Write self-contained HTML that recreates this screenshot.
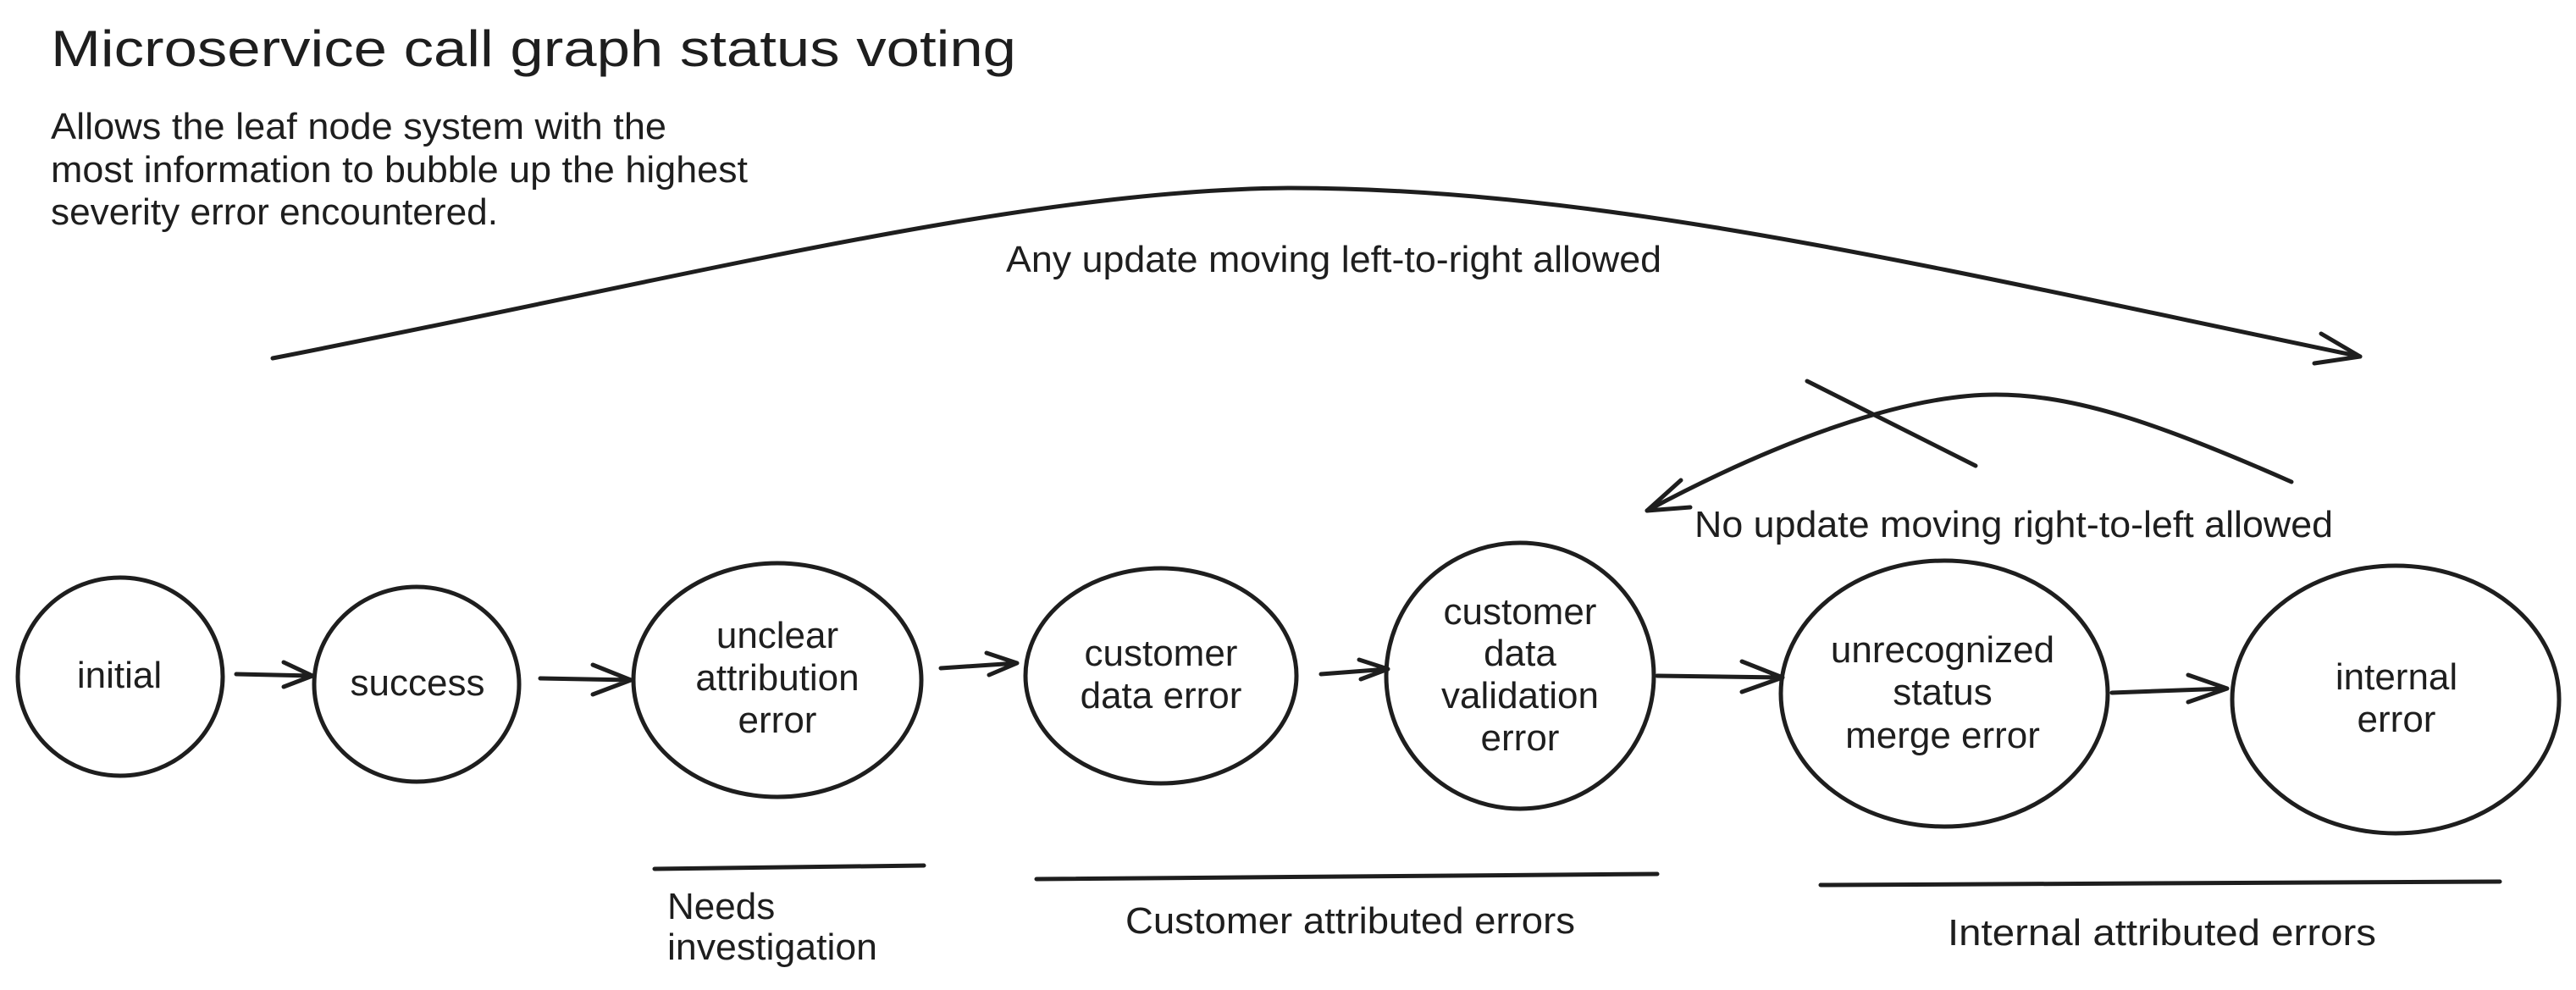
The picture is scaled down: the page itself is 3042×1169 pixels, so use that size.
<!DOCTYPE html>
<html><head><meta charset="utf-8"><style>
html,body{margin:0;padding:0;background:#fff;overflow:hidden;}
svg{display:block;}
text{font-family:"Liberation Sans",sans-serif;fill:#1e1e1e;}
</style></head><body>
<svg width="3042" height="1169" viewBox="0 0 3042 1169" xmlns="http://www.w3.org/2000/svg">
<rect width="3042" height="1169" fill="#fff"/>
<text x="60" y="78" font-size="60" textLength="1140" lengthAdjust="spacingAndGlyphs">Microservice call graph status voting</text>
<g font-size="44">
<text x="60" y="164" textLength="727" lengthAdjust="spacingAndGlyphs">Allows the leaf node system with the</text>
<text x="60" y="215" textLength="823" lengthAdjust="spacingAndGlyphs">most information to bubble up the highest</text>
<text x="60" y="265" textLength="528" lengthAdjust="spacingAndGlyphs">severity error encountered.</text>
</g>
<g fill="none" stroke="#1e1e1e" stroke-width="5" stroke-linecap="round" stroke-linejoin="round">
<path d="M322,423 C800,330 1200,225 1521,222 C1900,222 2300,320 2787,421"/>
<path d="M2741,394 L2787,421 L2733,429"/>
<path d="M2706,569 C2550,500 2450,466 2357,466 C2250,466 2100,520 1945,603"/>
<path d="M1985,567 L1945,603 L1996,599"/>
<path d="M2134,450 L2333,550"/>
<ellipse cx="142" cy="799" rx="121" ry="117"/>
<ellipse cx="492" cy="808" rx="121" ry="115"/>
<ellipse cx="918" cy="803" rx="170" ry="138"/>
<ellipse cx="1371" cy="798" rx="160" ry="127"/>
<ellipse cx="1795" cy="798" rx="158" ry="157"/>
<ellipse cx="2296" cy="819" rx="193" ry="157"/>
<ellipse cx="2829" cy="826" rx="193" ry="158"/>
<path d="M279,796 L369,798 M335,782 L369,798 L335,811"/>
<path d="M638,801 L745,803 M700,785 L745,803 L700,820"/>
<path d="M1111,789 L1201,783 M1165,771 L1201,783 L1168,797"/>
<path d="M1560,796 L1639,790 M1605,779 L1639,790 L1607,802"/>
<path d="M1957,798 L2105,800 M2057,781 L2105,800 L2057,817"/>
<path d="M2494,818 L2630,813 M2584,797 L2630,813 L2584,829"/>
<path d="M773,1026 L1091,1022"/>
<path d="M1224,1038 L1957,1032"/>
<path d="M2150,1045 L2952,1041"/>
</g>
<g font-size="44">
<text x="1188" y="321" textLength="774" lengthAdjust="spacingAndGlyphs">Any update moving left-to-right allowed</text>
<text x="2001" y="634" textLength="754" lengthAdjust="spacingAndGlyphs">No update moving right-to-left allowed</text>
<text x="788" y="1085">Needs</text>
<text x="788" y="1133" textLength="248" lengthAdjust="spacingAndGlyphs">investigation</text>
<text x="1329" y="1102" textLength="531" lengthAdjust="spacingAndGlyphs">Customer attributed errors</text>
<text x="2300" y="1116" textLength="506" lengthAdjust="spacingAndGlyphs">Internal attributed errors</text>
</g>
<g font-size="44" text-anchor="middle">
<text x="141" y="812">initial</text>
<text x="493" y="821">success</text>
<text x="918" y="765">unclear</text>
<text x="918" y="815">attribution</text>
<text x="918" y="865">error</text>
<text x="1371" y="786">customer</text>
<text x="1371" y="836">data error</text>
<text x="1795" y="737">customer</text>
<text x="1795" y="786">data</text>
<text x="1795" y="836">validation</text>
<text x="1795" y="886">error</text>
<text x="2294" y="782">unrecognized</text>
<text x="2294" y="832">status</text>
<text x="2294" y="883">merge error</text>
<text x="2830" y="814">internal</text>
<text x="2830" y="864">error</text>
</g>
</svg>
</body></html>
